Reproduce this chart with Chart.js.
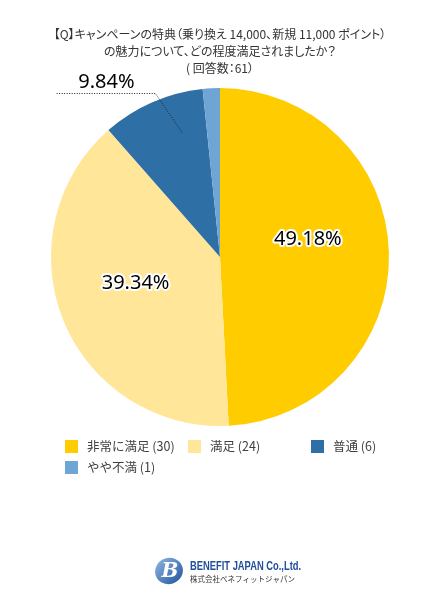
<!DOCTYPE html>
<html>
<head>
<meta charset="utf-8">
<script src="https://cdn.jsdelivr.net/npm/chart.js@4"></script>
<style>
  body { margin: 0; background: #fff; font-family: "Noto Sans CJK JP", "Noto Sans", sans-serif; }
  #wrap { position: relative; width: 440px; height: 600px; }
  #chart { position: absolute; left: 0; top: 0; }
  .title { position: absolute; left: 0; width: 440px; text-align: center; font-size: 12px; color: #333; line-height: 17px; top: 25px; font-feature-settings: "palt"; }
  #legend { position: absolute; left: 65px; top: 436px; width: 360px; font-size: 12.5px; color: #404040; }
  .item { position: absolute; white-space: nowrap; }
  .box { display: inline-block; width: 13px; height: 13px; vertical-align: -2px; margin-right: 9px; }
  #logo { position: absolute; left: 154px; top: 554px; width: 180px; height: 34px; }
</style>
</head>
<body>
<div id="wrap">
  <canvas id="chart" width="440" height="600"></canvas>
  <div class="title">【Q】キャンペーンの特典（乗り換え 14,000、新規 11,000 ポイント）<br>の魅力について、どの程度満足されましたか？<br>( 回答数：61）</div>
  <div id="legend"></div>
  <canvas id="logo" width="180" height="34"></canvas>
</div>
<script>
var categories = ['非常に満足', '満足', '普通', 'やや不満'];
var counts = [30, 24, 6, 1];
var percentLabels = ['49.18%', '39.34%', '9.84%', ''];
var colors = ['#FFCC00', '#FFE699', '#2E6FA6', '#6FA5D5'];

// label placement (style only): radius factor, nudges, and outside leader for one slice
var labelStyle = [
  { r: 0.52, dx: 0, dy: -15 },
  { r: 0.52, dx: -3, dy: -7 },
  { outside: true },
  null
];

var pctPlugin = {
  id: 'pctLabels',
  afterDatasetsDraw: function (chart) {
    var ctx = chart.ctx;
    var arcs = chart.getDatasetMeta(0).data;
    ctx.save();
    ctx.fillStyle = '#000';
    ctx.font = '20px "Noto Sans", sans-serif';
    ctx.textAlign = 'center';
    ctx.textBaseline = 'middle';
    ctx.lineJoin = 'round';
    arcs.forEach(function (arc, i) {
      var st = labelStyle[i];
      if (!st || !percentLabels[i]) return;
      var p = arc.getProps(['x', 'y', 'startAngle', 'endAngle', 'outerRadius']);
      var mid = (p.startAngle + p.endAngle) / 2;
      if (st.outside) {
        var a0 = mid + 0.116, a1 = mid + 0.036;
        var x0 = p.x + Math.cos(a0) * p.outerRadius * 0.77;
        var y0 = p.y + Math.sin(a0) * p.outerRadius * 0.77;
        var x1 = p.x + Math.cos(a1) * p.outerRadius * 1.04;
        var y1 = p.y + Math.sin(a1) * p.outerRadius * 1.04;
        var x2 = x1 - 99;
        ctx.strokeStyle = '#222';
        ctx.lineWidth = 1;
        ctx.setLineDash([1, 1.5]);
        ctx.beginPath();
        ctx.moveTo(x0, y0);
        ctx.lineTo(x1, y1);
        ctx.lineTo(x2, y1);
        ctx.stroke();
        ctx.setLineDash([]);
        ctx.fillText(percentLabels[i], x1 - 49, y1 - 11);
      } else {
        var x = p.x + Math.cos(mid) * p.outerRadius * st.r + st.dx;
        var y = p.y + Math.sin(mid) * p.outerRadius * st.r + st.dy;
        ctx.strokeStyle = '#fff';
        ctx.lineWidth = 4;
        ctx.strokeText(percentLabels[i], x, y);
        ctx.fillText(percentLabels[i], x, y);
      }
    });
    ctx.restore();
  }
};

new Chart(document.getElementById('chart').getContext('2d'), {
  type: 'pie',
  data: {
    labels: categories,
    datasets: [{
      data: counts,
      backgroundColor: colors,
      borderWidth: 0
    }]
  },
  options: {
    responsive: false,
    animation: false,
    layout: { padding: { left: 51, right: 51, top: 88, bottom: 174 } },
    plugins: {
      legend: { display: false },
      tooltip: { enabled: false }
    }
  },
  plugins: [pctPlugin]
});

// legend built from the data
var legendPos = [[0, 0], [123, 0], [246, 0], [0, 21]];
var lg = document.getElementById('legend');
categories.forEach(function (c, i) {
  var d = document.createElement('div');
  d.className = 'item';
  d.style.left = legendPos[i][0] + 'px';
  d.style.top = legendPos[i][1] + 'px';
  d.innerHTML = '<span class="box" style="background:' + colors[i] + '"></span>' + c + ' (' + counts[i] + ')';
  lg.appendChild(d);
});

// company logo
var lc = document.getElementById('logo').getContext('2d');
var grd = lc.createLinearGradient(0, 0, 30, 30);
grd.addColorStop(0, '#9cc3ea');
grd.addColorStop(1, '#1d4f9a');
lc.fillStyle = grd;
lc.beginPath();
lc.ellipse(15, 17, 14, 13, -0.3, 0, Math.PI * 2);
lc.fill();
lc.fillStyle = '#fff';
lc.font = 'bold italic 20px "DejaVu Serif", serif';
lc.textAlign = 'center';
lc.textBaseline = 'middle';
lc.fillText('B', 16, 18);
lc.textAlign = 'left';
lc.save();
lc.scale(0.78, 1);
lc.fillStyle = '#1f4e9c';
lc.font = 'bold 12px "Liberation Sans", sans-serif';
lc.fillText('BENEFIT JAPAN Co.,Ltd.', 36 / 0.78, 13);
lc.restore();
lc.fillStyle = '#333';
lc.font = '7.5px "Noto Sans CJK JP", sans-serif';
lc.fillText('株式会社ベネフィットジャパン', 36, 25);
</script>
</body>
</html>
